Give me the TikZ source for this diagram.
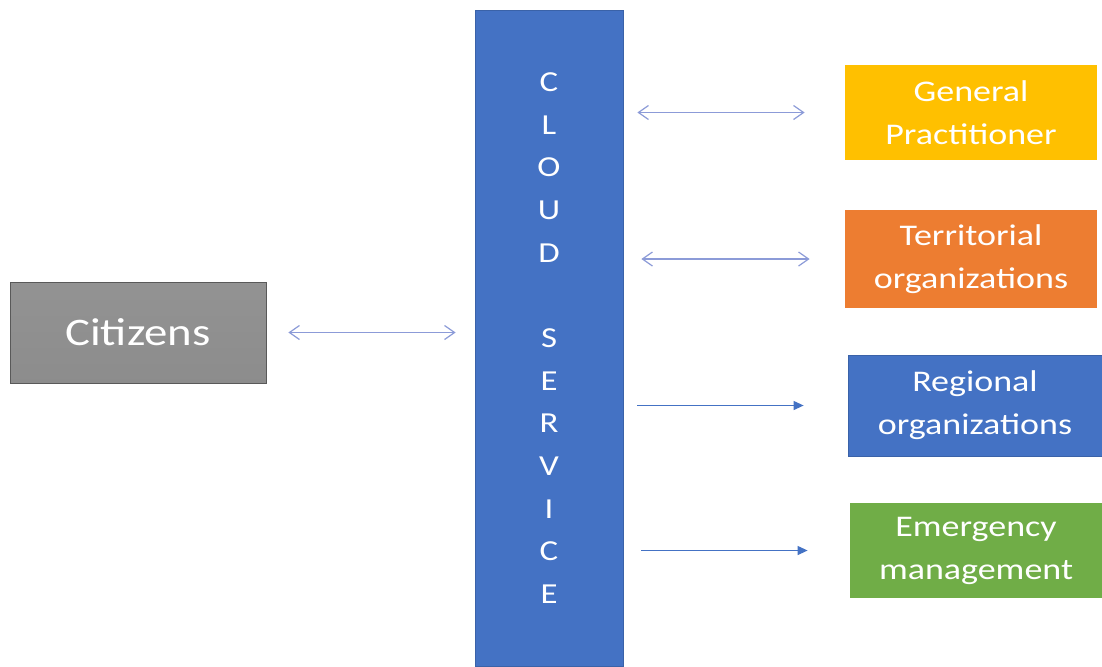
\documentclass[tikz,border=0pt]{standalone}
\usepackage{fontspec}
\setmainfont[FakeStretch=1.2]{Carlito}
\usetikzlibrary{arrows.meta,positioning}
\definecolor{cloudblue}{HTML}{4472C4}
\definecolor{cloudedge}{HTML}{3A62A8}
\definecolor{gpyellow}{HTML}{FFC000}
\definecolor{terorange}{HTML}{ED7D31}
\definecolor{emggreen}{HTML}{70AD47}
\definecolor{linkblue}{HTML}{8C9BD8}
\tikzset{box/.style={text=white,align=center,inner sep=0pt,minimum width=126pt,minimum height=48pt,font=\fontsize{15}{21.5}\selectfont},
twoway/.style={{Straight Barb[length=5pt,width=7pt]}-{Straight Barb[length=5pt,width=7pt]},draw=linkblue,line width=0.6pt},
oneway/.style={-{Triangle[length=5pt,width=4.5pt]},draw=cloudblue,line width=0.6pt}}

\begin{document}
\begin{tikzpicture}[x=0.5pt,y=-0.5pt]
\useasboundingbox[fill=white] (0,0) rectangle (1102,666);
\node[box,draw=gray!70!black,top color=gray!85,bottom color=gray!110!black,minimum width=128pt,minimum height=50.5pt,font=\fontsize{19.5}{22}\selectfont] (cit) at (138,332.5) {Citizens};
\node[box,fill=cloudblue,draw=cloudedge,minimum width=74pt,minimum height=328pt,font=\fontsize{14.5}{21.33}\selectfont] (cloud) at (549,338) {C\\L\\O\\U\\D\\~\\S\\E\\R\\V\\I\\C\\E};
\node[box,fill=gpyellow,minimum height=47.5pt] (gp) at (971,112.5) {General\\Practitioner};
\node[box,fill=terorange,minimum height=49pt] (ter) at (971,259) {Territorial\\organizations};
\node[box,fill=cloudblue,draw=cloudedge,minimum width=127pt,minimum height=50.5pt] (reg) at (975,405.5) {Regional\\organizations};
\node[box,fill=emggreen,minimum height=47.5pt] (emg) at (976,550.5) {Emergency\\management};
% links
\draw[twoway,shorten <=11pt,shorten >=9.5pt] (cit.east) -- (cloud.west |- cit.east);
\draw[twoway,shorten <=7pt,shorten >=20pt] (cloud.east |- gp.west) -- (gp.west);
\draw[twoway,shorten <=9pt,shorten >=17.5pt] (cloud.east |- ter.west) -- (ter.west);
\draw[oneway,shorten <=7pt,shorten >=22pt] (cloud.east |- reg.west) -- (reg.west);
\draw[oneway,shorten <=9pt,shorten >=21pt] (cloud.east |- emg.west) -- (emg.west);
\end{tikzpicture}
\end{document}
